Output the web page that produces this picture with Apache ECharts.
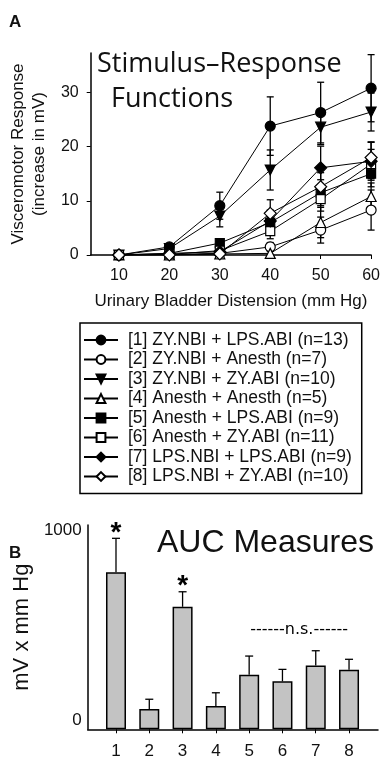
<!DOCTYPE html>
<html><head><meta charset="utf-8">
<script src="https://cdn.jsdelivr.net/npm/echarts@6/dist/echarts.min.js"></script>
<style>html,body{margin:0;padding:0;background:#fff}#c{width:383px;height:762px}</style>
</head><body><div id="c"></div>
<script>
// ---------- DATA ----------
const distension = [10, 20, 30, 40, 50, 60];
const xTicksA = [10, 20, 30, 40, 50, 60];
const yTicksA = [0, 10, 20, 30];
const groupNames = [
  '[1] ZY.NBI + LPS.ABI (n=13)',
  '[2] ZY.NBI + Anesth (n=7)',
  '[3] ZY.NBI + ZY.ABI (n=10)',
  '[4] Anesth + Anesth (n=5)',
  '[5] Anesth + LPS.ABI (n=9)',
  '[6] Anesth + ZY.ABI (n=11)',
  '[7] LPS.NBI + LPS.ABI (n=9)',
  '[8] LPS.NBI + ZY.ABI (n=10)'
];
const mean1 = [0, 1.5, 9.1, 23.8, 26.3, 30.8];
const mean2 = [0, 0.1, 0.3, 1.5, 4.6, 8.3];
const mean3 = [0, 1.2, 7.2, 15.7, 23.6, 26.4];
const mean4 = [0, 0, 0.2, 0.3, 6.0, 10.8];
const mean5 = [0, 0.3, 2.2, 6.0, 11.5, 15.0];
const mean6 = [0, 0.1, 0.8, 4.4, 10.3, 16.8];
const mean7 = [0, 0.3, 0.6, 6.3, 16.1, 17.3];
const mean8 = [0, 0, 0.2, 7.7, 12.6, 18.0];
const se1 = [0, 0.3, 2.5, 5.4, 5.6, 6.2];
const se2 = [0, 0, 0.3, 0.8, 2.4, 3.7];
const se3 = [0, 0.3, 2.0, 3.7, 3.2, 3.5];
const se4 = [0, 0, 0.1, 0.5, 2.8, 2.5];
const se5 = [0, 0.2, 0.8, 1.5, 2.4, 2.4];
const se6 = [0, 0, 0.4, 1.4, 2.2, 2.7];
const se7 = [0, 0.2, 0.3, 2.0, 4.0, 3.5];
const se8 = [0, 0, 0.2, 2.5, 2.6, 2.9];

const aucGroups = [1, 2, 3, 4, 5, 6, 7, 8];
const aucMean = [825, 107, 644, 122, 287, 252, 336, 313];
const aucErr = [179, 51, 79, 70, 98, 63, 77, 55];
const aucSig = ['*', '', '*', '', '', '', '', ''];
const yTicksB = [0, 1000];
const nsText = '------n.s.------';
const nsAnchor = [6.5, 525];

// ---------- STYLE ----------
const FONT = '"Liberation Sans", Arial, sans-serif';
const TFONT = '"Open Sans", Lato, sans-serif';
const TXT = '#111';
const means = [mean1, mean2, mean3, mean4, mean5, mean6, mean7, mean8];
const ses = [se1, se2, se3, se4, se5, se6, se7, se8];
const symbols = ['circle', 'circle', 'triangle', 'triangle', 'rect', 'rect', 'diamond', 'diamond'];
const filled = [true, false, true, false, true, false, true, false];
const rotates = [0, 0, 180, 0, 0, 0, 0, 0];
const sizes = [10, 10, 10, 10, 9, 9, 12, 12];

const errData = [];
means.forEach((m, g) => m.forEach((v, i) => {
  if (ses[g][i] > 0) errData.push([distension[i], v - ses[g][i], v + ses[g][i]]);
}));

function errRender(cap, twoSided) {
  return function (params, api) {
    const x = api.value(0), lo = api.value(1), hi = api.value(2);
    const pH = api.coord([x, hi]), pL = api.coord([x, lo]);
    const st = { stroke: '#000', lineWidth: 1.3 };
    const ch = [
      { type: 'line', shape: { x1: pH[0], y1: pH[1], x2: pL[0], y2: pL[1] }, style: st },
      { type: 'line', shape: { x1: pH[0] - cap, y1: pH[1], x2: pH[0] + cap, y2: pH[1] }, style: st }
    ];
    if (twoSided) ch.push({ type: 'line', shape: { x1: pL[0] - cap, y1: pL[1], x2: pL[0] + cap, y2: pL[1] }, style: st });
    return { type: 'group', children: ch };
  };
}

const lineSeries = means.map((m, g) => ({
  name: groupNames[g], type: 'line', xAxisIndex: 0, yAxisIndex: 0,
  data: m.map((v, i) => [distension[i], v]),
  symbol: symbols[g], symbolSize: sizes[g], symbolRotate: rotates[g],
  showAllSymbol: true,
  lineStyle: { color: '#000', width: 1 },
  itemStyle: { color: filled[g] ? '#000' : '#fff', borderColor: '#000', borderWidth: 1.2 },
  z: 3, animation: false
}));

const option = {
  animation: false,
  backgroundColor: '#fff',
  title: [
    { text: 'A', left: 4, top: 9, textStyle: { fontFamily: FONT, fontWeight: 'bold', fontSize: 17, color: TXT } },
    { text: 'Stimulus\u2013Response', left: 92, top: 46, textStyle: { fontFamily: TFONT, fontWeight: 'normal', fontSize: 27, color: TXT } },
    { text: 'Functions', left: 106, top: 81, textStyle: { fontFamily: TFONT, fontWeight: 'normal', fontSize: 27, color: TXT } },
    { text: 'B', left: 4, top: 540, textStyle: { fontFamily: FONT, fontWeight: 'bold', fontSize: 17, color: TXT } },
    { text: 'AUC Measures', left: 152, top: 522, textStyle: { fontFamily: FONT, fontWeight: 'normal', fontSize: 32, color: TXT } }
  ],
  legend: {
    data: groupNames, orient: 'vertical', left: 80, top: 323,
    itemWidth: 34, itemHeight: 11, itemGap: 1.5,
    padding: [8, 10, 8, 3], borderColor: '#000', borderWidth: 1.5,
    selectedMode: false,
    textStyle: { fontFamily: FONT, fontSize: 17.5, color: TXT, padding: [0, 0, 0, 5] }
  },
  grid: [
    { left: 86, top: 53, width: 286.5, height: 202 },
    { left: 87.7, top: 525, width: 290.3, height: 204.3 }
  ],
  xAxis: [
    {
      gridIndex: 0, type: 'value', min: 4.4, max: 60,
      name: 'Urinary Bladder Distension (mm Hg)', nameLocation: 'middle', nameGap: 38,
      nameTextStyle: { fontFamily: FONT, fontSize: 17, color: TXT },
      axisLine: { lineStyle: { color: '#000', width: 1.5 } },
      axisTick: { show: true, length: 4, customValues: xTicksA, lineStyle: { color: '#000' } },
      axisLabel: { customValues: xTicksA, fontFamily: FONT, fontSize: 16, color: TXT, margin: 13 },
      splitLine: { show: false }
    },
    {
      gridIndex: 1, type: 'value', min: 0.15, max: 8.87,
      axisLine: { lineStyle: { color: '#000', width: 1.5 } },
      axisTick: { show: true, length: 4, customValues: aucGroups, lineStyle: { color: '#000' } },
      axisLabel: { customValues: aucGroups, fontFamily: FONT, fontSize: 17, color: TXT, margin: 14 },
      splitLine: { show: false }
    }
  ],
  yAxis: [
    {
      gridIndex: 0, type: 'value', min: 0, max: 37.3,
      name: 'Visceromotor Response\n(increase in mV)', nameLocation: 'middle', nameGap: 37,
      nameTextStyle: { fontFamily: FONT, fontSize: 17, color: TXT, lineHeight: 21 },
      axisLine: { show: true, lineStyle: { color: '#000', width: 1.5 } },
      axisTick: { show: true, length: 4, customValues: yTicksA, lineStyle: { color: '#000' } },
      axisLabel: { customValues: yTicksA, fontFamily: FONT, fontSize: 16, color: TXT, margin: 12 },
      splitLine: { show: false }
    },
    {
      gridIndex: 1, type: 'value', min: 0, max: 1074,
      name: 'mV x mm Hg', nameLocation: 'middle', nameGap: 16,
      nameTextStyle: { fontFamily: FONT, fontSize: 22, color: TXT },
      axisLine: { show: true, lineStyle: { color: '#000', width: 1.5 } },
      axisTick: { show: false },
      axisLabel: { customValues: yTicksB, formatter: v => String(v), fontFamily: FONT, fontSize: 17, color: TXT, margin: 6, verticalAlign: 'bottom' },
      splitLine: { show: false }
    }
  ],
  series: [
    {
      type: 'custom', xAxisIndex: 0, yAxisIndex: 0, data: errData,
      renderItem: errRender(3.5, true), z: 2, silent: true
    },
    ...lineSeries,
    {
      type: 'bar', xAxisIndex: 1, yAxisIndex: 1, barWidth: 20,
      data: aucGroups.map((g, i) => [g, aucMean[i]]),
      itemStyle: { color: '#c3c3c3', borderColor: '#000', borderWidth: 1.5 }, z: 3
    },
    {
      type: 'custom', xAxisIndex: 1, yAxisIndex: 1,
      data: aucGroups.map((g, i) => [g, aucMean[i], aucMean[i] + aucErr[i]]),
      renderItem: errRender(4, false), z: 2, silent: true
    },
    {
      type: 'scatter', xAxisIndex: 1, yAxisIndex: 1, symbolSize: 0,
      itemStyle: { opacity: 1 },
      data: aucGroups.map((g, i) => ({ value: [g, aucMean[i] + aucErr[i]], sig: aucSig[i] })).filter((d, i) => aucSig[i]),
      label: { show: true, position: 'top', distance: -9, formatter: p => p.data.sig, fontFamily: FONT, fontSize: 28, fontWeight: 'bold', color: '#000', opacity: 1 },
      silent: true
    },
    {
      type: 'scatter', xAxisIndex: 1, yAxisIndex: 1, symbolSize: 0,
      itemStyle: { opacity: 1 },
      data: [nsAnchor],
      label: { show: true, position: 'inside', formatter: nsText, fontFamily: '"DejaVu Sans", sans-serif', fontSize: 16, color: '#000', opacity: 1 },
      silent: true
    }
  ]
};
const chart = echarts.init(document.getElementById('c'), null, { renderer: 'canvas' });
chart.setOption(option);
</script></body></html>
